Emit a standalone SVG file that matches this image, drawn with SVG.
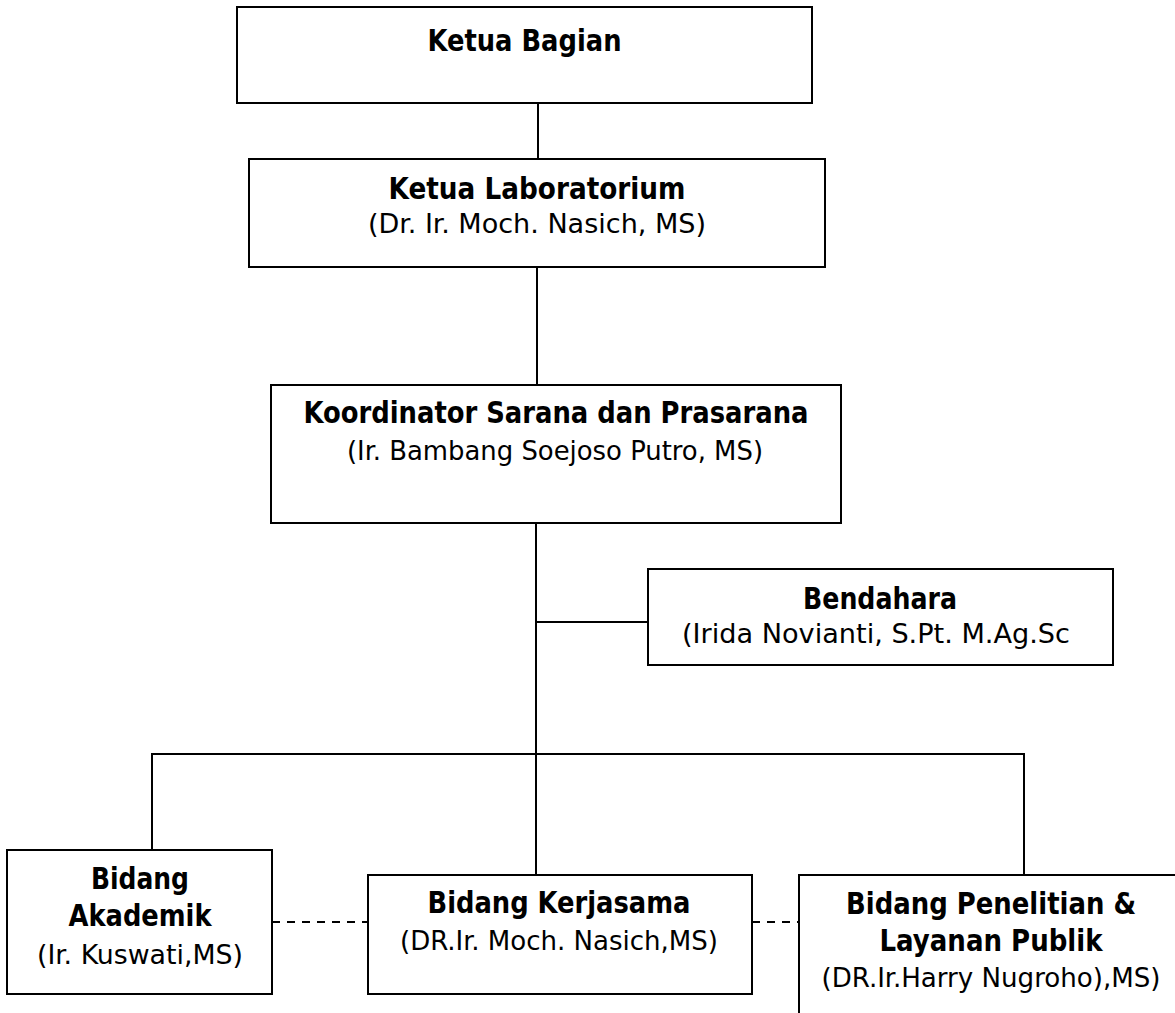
<svg xmlns="http://www.w3.org/2000/svg" width="1175" height="1013" viewBox="0 0 1175 1013">
<style>
.box{fill:#fff;stroke:#000;stroke-width:2}
.ln{fill:none;stroke:#000;stroke-width:2}
.dash{fill:none;stroke:#000;stroke-width:2;stroke-dasharray:8 7}
text{font-family:"DejaVu Sans Condensed","DejaVu Sans",sans-serif;fill:#000;text-anchor:middle}
.t{font-size:29.5px;font-weight:bold}
.s{font-size:27px}
</style>
<rect width="1175" height="1013" fill="#fff"/>
<g id="connectors">
<path class="ln" d="M538 103V159"/>
<path class="ln" d="M537 267V385"/>
<path class="ln" d="M536 523V875"/>
<path class="ln" d="M536 622H648"/>
<path class="ln" d="M152 850V754H1024V875"/>
<path class="dash" d="M272 922H368"/>
<path class="dash" d="M752 922H799"/>
</g>
<g id="ketua-bagian">
<rect class="box" x="237" y="7" width="575" height="96"/>
<text class="t" x="524.5" y="51" textLength="194" lengthAdjust="spacingAndGlyphs">Ketua Bagian</text>
</g>
<g id="ketua-lab">
<rect class="box" x="249" y="159" width="576" height="108"/>
<text class="t" x="537" y="199" textLength="297" lengthAdjust="spacingAndGlyphs">Ketua Laboratorium</text>
<text class="s" x="537" y="233" textLength="338" lengthAdjust="spacingAndGlyphs">(Dr. Ir. Moch. Nasich, MS)</text>
</g>
<g id="koordinator">
<rect class="box" x="271" y="385" width="570" height="138"/>
<text class="t" x="556" y="423" textLength="505" lengthAdjust="spacingAndGlyphs">Koordinator Sarana dan Prasarana</text>
<text class="s" x="555" y="460" textLength="416" lengthAdjust="spacingAndGlyphs">(Ir. Bambang Soejoso Putro, MS)</text>
</g>
<g id="bendahara">
<rect class="box" x="648" y="569" width="465" height="96"/>
<text class="t" x="880" y="609" textLength="154" lengthAdjust="spacingAndGlyphs">Bendahara</text>
<text class="s" x="876" y="643" textLength="388" lengthAdjust="spacingAndGlyphs">(Irida Novianti, S.Pt. M.Ag.Sc</text>
</g>
<g id="akademik">
<rect class="box" x="7" y="850" width="265" height="144"/>
<text class="t" x="140" y="889" textLength="98" lengthAdjust="spacingAndGlyphs">Bidang</text>
<text class="t" x="140" y="926" textLength="143" lengthAdjust="spacingAndGlyphs">Akademik</text>
<text class="s" x="140" y="964" textLength="206" lengthAdjust="spacingAndGlyphs">(Ir. Kuswati,MS)</text>
</g>
<g id="kerjasama">
<rect class="box" x="368" y="875" width="384" height="119"/>
<text class="t" x="559" y="913" textLength="263" lengthAdjust="spacingAndGlyphs">Bidang Kerjasama</text>
<text class="s" x="559" y="950" textLength="318" lengthAdjust="spacingAndGlyphs">(DR.Ir. Moch. Nasich,MS)</text>
</g>
<g id="penelitian">
<rect class="box" x="799" y="875" width="400" height="200"/>
<text class="t" x="991" y="914" textLength="290" lengthAdjust="spacingAndGlyphs">Bidang Penelitian &amp;</text>
<text class="t" x="991" y="951" textLength="223" lengthAdjust="spacingAndGlyphs">Layanan Publik</text>
<text class="s" x="991" y="987" textLength="339" lengthAdjust="spacingAndGlyphs">(DR.Ir.Harry Nugroho),MS)</text>
</g>
</svg>
